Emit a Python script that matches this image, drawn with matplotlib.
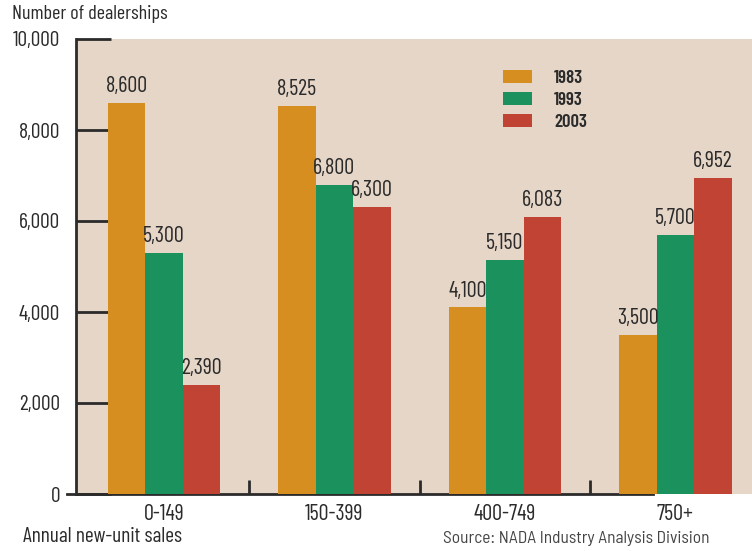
import matplotlib
matplotlib.use('Agg')
import matplotlib.pyplot as plt
import numpy as np
from matplotlib.patches import Patch

plt.rcParams['font.family'] = ['Barlow Condensed', 'DejaVu Sans']

## data: number of dealerships by annual new-unit sales
categories = ['0-149', '150-399', '400-749', '750+']
years = ['1983', '1993', '2003']
dealers_1983 = [8600, 8525, 4100, 3500]
dealers_1993 = [5300, 6800, 5150, 5700]
dealers_2003 = [2390, 6300, 6083, 6952]
yticks = [0, 2000, 4000, 6000, 8000, 10000]

colors = ['#D58E1F', '#1B915D', '#C14333']
bg = '#E6D6C7'
ink = '#2b2b2b'

fig = plt.figure(figsize=(7.52, 5.51), dpi=100)
ax = fig.add_axes([76/752, 57/551, 676/752, 455/551])
ax.set_facecolor(bg)

ind = np.arange(len(categories))
width = 0.22
series = [dealers_1983, dealers_1993, dealers_2003]
for k, vals in enumerate(series):
    pos = ind + (k - 1) * width
    bars = ax.bar(pos, vals, width, color=colors[k], zorder=3, linewidth=0)
    for x, v in zip(pos, vals):
        ax.text(x, v + 130, '{:,}'.format(v), ha='center', va='bottom',
                fontsize=16, color=ink, zorder=4)

ax.set_xlim(-0.516, 3.45)
ax.set_ylim(0, 10000)

## axes lines: left spine plus a bottom line that runs past the y axis
for s in ['top', 'right', 'bottom']:
    ax.spines[s].set_visible(False)
ax.spines['left'].set_color(ink)
ax.spines['left'].set_linewidth(2)
ax.plot([-0.57, 2.87], [0, 0], color=ink, lw=2, clip_on=False, zorder=2)

ax.set_yticks(yticks)
ax.set_yticklabels(['{:,}'.format(t) for t in yticks])
ax.tick_params(axis='y', direction='in', length=25, width=2, color=ink,
               labelsize=15.5, labelcolor=ink, pad=11.5)

## x: category labels at group centres, minor ticks between groups
ax.set_xticks(ind)
ax.set_xticklabels(categories)
ax.tick_params(axis='x', which='major', length=0, labelsize=16,
               labelcolor=ink, pad=7)
ax.set_xticks(ind[:-1] + 0.5, minor=True)
ax.tick_params(axis='x', which='minor', direction='in', length=10, width=2,
               color=ink)

handles = [Patch(facecolor=c, edgecolor='none') for c in colors]
leg = ax.legend(handles, years, loc='upper left',
                bbox_to_anchor=(503/752, 1 - 70/551),
                bbox_transform=fig.transFigure, frameon=False,
                prop={'weight': 'semibold', 'size': 13.5},
                handlelength=1.55, handleheight=0.69, handletextpad=1.17,
                labelspacing=0.26, borderpad=0, borderaxespad=0)
for t in leg.get_texts():
    t.set_color(ink)

fig.text(12/752, 1 - 14/551, 'Number of dealerships', fontsize=14.5,
         color=ink, ha='left', va='center')
fig.text(23/752, 1 - 537/551, 'Annual new-unit sales', fontsize=15.4,
         color=ink, ha='left', va='center')
fig.text(443/752, 1 - 539/551, 'Source: NADA Industry Analysis Division',
         fontsize=12.5, color='#444444', ha='left', va='center',
         family='Barlow Semi Condensed')

plt.savefig('out.png', dpi=100)
plt.close()
